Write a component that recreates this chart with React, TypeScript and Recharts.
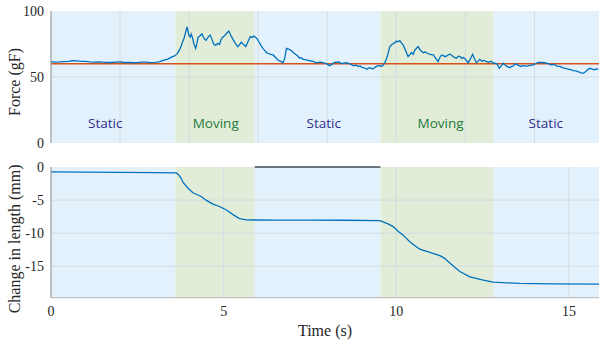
import React from 'react';
import {
  ComposedChart,
  Line,
  XAxis,
  YAxis,
  ReferenceArea,
  ReferenceLine,
  ReferenceDot,
} from 'recharts';

// ---------- data ----------
const timeForce = [
  0, 0.12, 0.25, 0.37, 0.5, 0.62, 0.75, 0.87, 1.0, 1.12, 1.25, 1.37, 1.5, 1.62, 1.75, 1.87, 2.0,
  2.12, 2.25, 2.37, 2.5, 2.62, 2.75, 2.87, 3.0, 3.08, 3.15, 3.23, 3.3, 3.38, 3.45, 3.52, 3.58, 3.65,
  3.72, 3.77, 3.81, 3.85, 3.88, 3.94, 3.97, 3.99, 4.03, 4.06, 4.1, 4.14, 4.19, 4.23, 4.26, 4.31, 4.37,
  4.41, 4.45, 4.49, 4.53, 4.57, 4.61, 4.66, 4.71, 4.77, 4.83, 4.88, 4.92, 4.96, 5.0, 5.05, 5.1, 5.15,
  5.2, 5.27, 5.34, 5.41, 5.46, 5.51, 5.57, 5.64, 5.7, 5.77, 5.82, 5.88, 5.93, 5.98, 6.02, 6.08, 6.14,
  6.2, 6.24, 6.3, 6.36, 6.43, 6.5, 6.57, 6.64, 6.72, 6.77, 6.82, 6.88, 6.96, 7.03, 7.11, 7.16, 7.2,
  7.25, 7.3, 7.4, 7.49, 7.59, 7.69, 7.8, 7.9, 7.98, 8.07, 8.12, 8.17, 8.22, 8.27, 8.33, 8.4, 8.48,
  8.56, 8.65, 8.75, 8.83, 8.9, 8.96, 9.0, 9.07, 9.14, 9.2, 9.25, 9.32, 9.38, 9.45, 9.52, 9.57, 9.62,
  9.67, 9.72, 9.77, 9.81, 9.88, 9.96, 10.0, 10.05, 10.1, 10.15, 10.2, 10.27, 10.34, 10.39, 10.44,
  10.49, 10.54, 10.58, 10.63, 10.7, 10.78, 10.84, 10.9, 10.98, 11.07, 11.14, 11.21, 11.26, 11.31,
  11.37, 11.42, 11.48, 11.55, 11.6, 11.67, 11.74, 11.8, 11.85, 11.9, 11.94, 12.0, 12.08, 12.14,
  12.21, 12.26, 12.32, 12.37, 12.42, 12.48, 12.55, 12.61, 12.68, 12.75, 12.81, 12.86, 12.92, 12.98,
  13.04, 13.1, 13.15, 13.2, 13.25, 13.29, 13.34, 13.38, 13.43, 13.48, 13.54, 13.6, 13.68, 13.77,
  13.87, 13.97, 14.04, 14.11, 14.2, 14.3, 14.4, 14.5, 14.57, 14.65, 14.74, 14.83, 14.9, 14.98,
  15.05, 15.12, 15.2, 15.28, 15.35, 15.41, 15.46, 15.5, 15.56, 15.61, 15.67, 15.73, 15.79, 15.85,
];
const forceValues = [
  61.6, 61.3, 61.4, 61.7, 61.9, 62.3, 62.2, 61.8, 61.8, 61.5, 61.3, 61.5, 61.2, 61.0, 61.0, 61.3, 61.4,
  61.0, 61.1, 60.8, 60.9, 61.3, 61.2, 60.9, 61.1, 61.3, 61.6, 62.4, 63.0, 63.5, 64.5, 65.4, 66.0, 67.5,
  70.5, 73.5, 76.7, 79.0, 82.0, 88.0, 84.5, 81.8, 80.2, 82.6, 79.5, 75.0, 71.7, 76.0, 80.0, 81.0, 82.6,
  80.5, 78.5, 77.8, 79.5, 80.8, 81.8, 78.5, 75.0, 74.0, 75.5, 74.6, 78.0, 79.8, 80.6, 82.0, 83.5, 84.8,
  82.0, 78.5, 75.5, 73.0, 74.5, 76.3, 74.8, 73.0, 76.5, 80.6, 80.0, 81.0, 80.0, 78.5, 76.7, 74.0, 71.5,
  69.8, 68.4, 67.8, 67.2, 66.7, 65.0, 62.9, 62.0, 60.8, 64.5, 71.7, 71.2, 70.0, 68.2, 66.7, 65.5, 64.2,
  64.6, 63.4, 62.9, 62.3, 61.9, 60.8, 61.2, 60.7, 60.1, 58.6, 59.4, 60.3, 61.3, 61.1, 61.5, 60.2, 60.5,
  60.8, 60.0, 58.6, 58.9, 58.0, 58.4, 57.2, 57.0, 55.8, 56.8, 56.8, 56.0, 57.3, 58.4, 58.6, 58.0, 59.1,
  60.8, 64.2, 68.5, 73.0, 74.8, 76.0, 77.2, 76.7, 77.5, 75.8, 74.2, 70.0, 65.5, 66.8, 68.5,
  67.2, 70.5, 71.6, 73.0, 70.2, 68.4, 68.9, 68.0, 67.2, 66.7, 64.3, 61.6, 64.8, 66.7,
  66.0, 65.4, 66.3, 67.4, 66.5, 65.0, 64.2, 65.8, 65.5, 64.0, 64.9, 63.5, 60.8, 63.5,
  67.2, 64.0, 60.8, 62.0, 63.4, 62.0, 62.6, 61.6, 61.2, 62.0, 60.4, 60.4, 59.8, 56.6,
  58.4, 60.4, 59.0, 58.0, 57.6, 57.0, 58.0, 58.2, 59.8, 59.6, 58.8, 58.0, 58.6, 58.3,
  58.8, 59.1, 60.2, 61.1, 61.0, 60.8, 60.2, 59.1, 59.6, 58.2, 58.0, 57.0, 56.5, 56.0,
  55.6, 54.8, 54.6, 53.9, 53.2, 52.8, 53.6, 54.5, 56.0, 56.6, 56.0, 55.5, 56.2, 55.8,
];

const timeLength = [
  0, 1.0, 2.0, 3.0, 3.63, 3.7, 3.77, 3.82, 3.97, 4.11, 4.35, 4.5, 4.69, 4.88, 5.08, 5.27, 5.46,
  5.66, 6.5, 7.5, 8.5, 9.52, 9.62, 9.76, 9.91, 10.05, 10.2, 10.39, 10.55, 10.68, 10.97, 11.26, 11.4,
  11.55, 11.7, 11.84, 12.13, 12.52, 12.81, 13.2, 13.58, 14.5, 15.87,
];
const lengthValues = [
  -0.75, -0.78, -0.82, -0.86, -0.9, -1.2, -1.7, -2.3, -3.2, -3.9, -4.45, -5.05, -5.6, -5.97, -6.5, -7.2, -7.8,
  -8.0, -8.02, -8.03, -8.05, -8.1, -8.3, -8.6, -9.0, -9.7, -10.3, -11.3, -11.95, -12.4, -12.9, -13.4, -13.8,
  -14.5, -15.2, -15.8, -16.6, -17.1, -17.4, -17.5, -17.6, -17.65, -17.7,
];

const regionStarts = [0, 3.6, 5.9, 9.54, 12.82];
const regionEnds = [3.6, 5.9, 9.54, 12.82, 15.87];
const regionNames = ['Static', 'Moving', 'Static', 'Moving', 'Static'];
const labelTimes = [1.57, 4.77, 7.9, 11.28, 14.33];
const labelForce = [15, 15, 15, 15, 15];

const thresholdForce = 60;
const xDomain: [number, number] = [0, 15.87];
const forceTicks = [0, 50, 100];
const forceGridX = [2, 4, 6, 8, 10, 12, 14];
const lengthTicks = [0, -5, -10, -15];
const timeTicks = [0, 5, 10, 15];
const lengthDomain: [number, number] = [-19.75, 0];
const topEdgeSegment = [5.9, 9.54];

// ---------- styles ----------
const BLUE = '#0072bd';
const ORANGE = '#d95319';
const STATIC_BG = '#e3f1fc';
const MOVING_BG = '#e1edd8';
const STATIC_TXT = '#2e2f8f';
const MOVING_TXT = '#1d7a3b';
const GRID = '#d3dbe2';
const TXT = '#262626';
const SERIF = '"Liberation Serif", "Times New Roman", serif';
const SANS = '"Open Sans", "Noto Sans", sans-serif';

const forceData = timeForce.map((t, i) => ({ t, f: forceValues[i] }));
const lengthData = timeLength.map((t, i) => ({ t, d: lengthValues[i] }));

const tickStyle = { fill: TXT, fontSize: 14, fontFamily: SERIF };

const YTitle = (text: string, dy: number) => (props: any) => {
  const vb = props.viewBox || {};
  const cx = 20;
  const cy = (vb.y || 0) + (vb.height || 0) / 2 + dy;
  return (
    <text
      x={cx}
      y={cy}
      transform={`rotate(-90, ${cx}, ${cy})`}
      textAnchor="middle"
      fill={TXT}
      fontSize={16}
      fontFamily={SERIF}
    >
      {text}
    </text>
  );
};

const XTitle = (props: any) => {
  const vb = props.viewBox || {};
  const cx = (vb.x || 0) + (vb.width || 0) / 2;
  const cy = (vb.y || 0) + 38.5;
  return (
    <text x={cx} y={cy} textAnchor="middle" fill={TXT} fontSize={16} fontFamily={SERIF}>
      Time (s)
    </text>
  );
};

const regionAreas = (y1: number, y2: number) =>
  regionStarts.map((s, i) => (
    <ReferenceArea
      key={`r${i}`}
      x1={s}
      x2={regionEnds[i]}
      y1={y1}
      y2={y2}
      fill={regionNames[i] === 'Static' ? STATIC_BG : MOVING_BG}
      fillOpacity={1}
      stroke="none"
    />
  ));

export default function App() {
  return (
    <div
      style={{
        position: 'absolute',
        left: 0,
        top: 0,
        width: 599,
        height: 343,
        background: '#ffffff',
        overflow: 'hidden',
      }}
    >
      <div style={{ position: 'absolute', left: 0, top: 0 }}>
        <ComposedChart
          width={599}
          height={155}
          data={forceData}
          margin={{ top: 11, right: 0, bottom: 12, left: 0 }}
        >
          <XAxis
            dataKey="t"
            type="number"
            domain={xDomain}
            ticks={forceGridX}
            tick={false}
            tickLine={false}
            height={0}
            axisLine={{ stroke: '#b4b4b4' }}
            allowDataOverflow
          />
          <YAxis
            type="number"
            domain={[0, 100]}
            ticks={forceTicks}
            width={51}
            tickSize={0}
            tickMargin={7}
            tickLine={false}
            axisLine={{ stroke: '#8a8a8a' }}
            tick={tickStyle}
            label={{ content: YTitle('Force (gF)', 5) }}
            allowDataOverflow
          />
          {regionAreas(0, 100)}
          {forceGridX.map((x) => (
            <ReferenceLine key={`gx${x}`} x={x} stroke={GRID} strokeWidth={1} />
          ))}
          <ReferenceLine y={50} stroke={GRID} strokeWidth={1} />
          <ReferenceLine y={thresholdForce} stroke={ORANGE} strokeWidth={1.4} />
          <Line
            dataKey="f"
            type="linear"
            stroke={BLUE}
            strokeWidth={1.3}
            dot={false}
            isAnimationActive={false}
          />
          {labelTimes.map((t, i) => (
            <ReferenceDot
              key={`l${i}`}
              x={t}
              y={labelForce[i]}
              r={0}
              fill="none"
              stroke="none"
              label={{
                value: regionNames[i],
                position: 'center',
                fill: regionNames[i] === 'Static' ? STATIC_TXT : MOVING_TXT,
                fontSize: 13.5,
                fontFamily: SANS,
              }}
            />
          ))}
        </ComposedChart>
      </div>
      <div style={{ position: 'absolute', left: 0, top: 155 }}>
        <ComposedChart
          width={599}
          height={188}
          data={lengthData}
          margin={{ top: 12, right: 0, bottom: 0, left: 0 }}
        >
          <XAxis
            dataKey="t"
            type="number"
            domain={xDomain}
            ticks={timeTicks}
            height={45.3}
            tickSize={0}
            tickMargin={8}
            tickLine={false}
            axisLine={{ stroke: '#b4b4b4' }}
            tick={tickStyle}
            label={{ content: XTitle }}
            allowDataOverflow
          />
          <YAxis
            type="number"
            domain={lengthDomain}
            ticks={lengthTicks}
            width={51}
            tickSize={0}
            tickMargin={7}
            tickLine={false}
            axisLine={{ stroke: '#8a8a8a' }}
            tick={tickStyle}
            label={{ content: YTitle('Change in length (mm)', 6.6) }}
            allowDataOverflow
          />
          {regionAreas(lengthDomain[0], lengthDomain[1])}
          {timeTicks.slice(1).map((x) => (
            <ReferenceLine key={`gx${x}`} x={x} stroke={GRID} strokeWidth={1} />
          ))}
          {lengthTicks.slice(1).map((y) => (
            <ReferenceLine key={`gy${y}`} y={y} stroke={GRID} strokeWidth={1} />
          ))}
          <ReferenceLine
            segment={[
              { x: topEdgeSegment[0], y: 0 },
              { x: topEdgeSegment[1], y: 0 },
            ]}
            stroke="#3d4852"
            strokeWidth={1.6}
          />
          <Line
            dataKey="d"
            type="linear"
            stroke={BLUE}
            strokeWidth={1.3}
            dot={false}
            isAnimationActive={false}
          />
        </ComposedChart>
      </div>
    </div>
  );
}
